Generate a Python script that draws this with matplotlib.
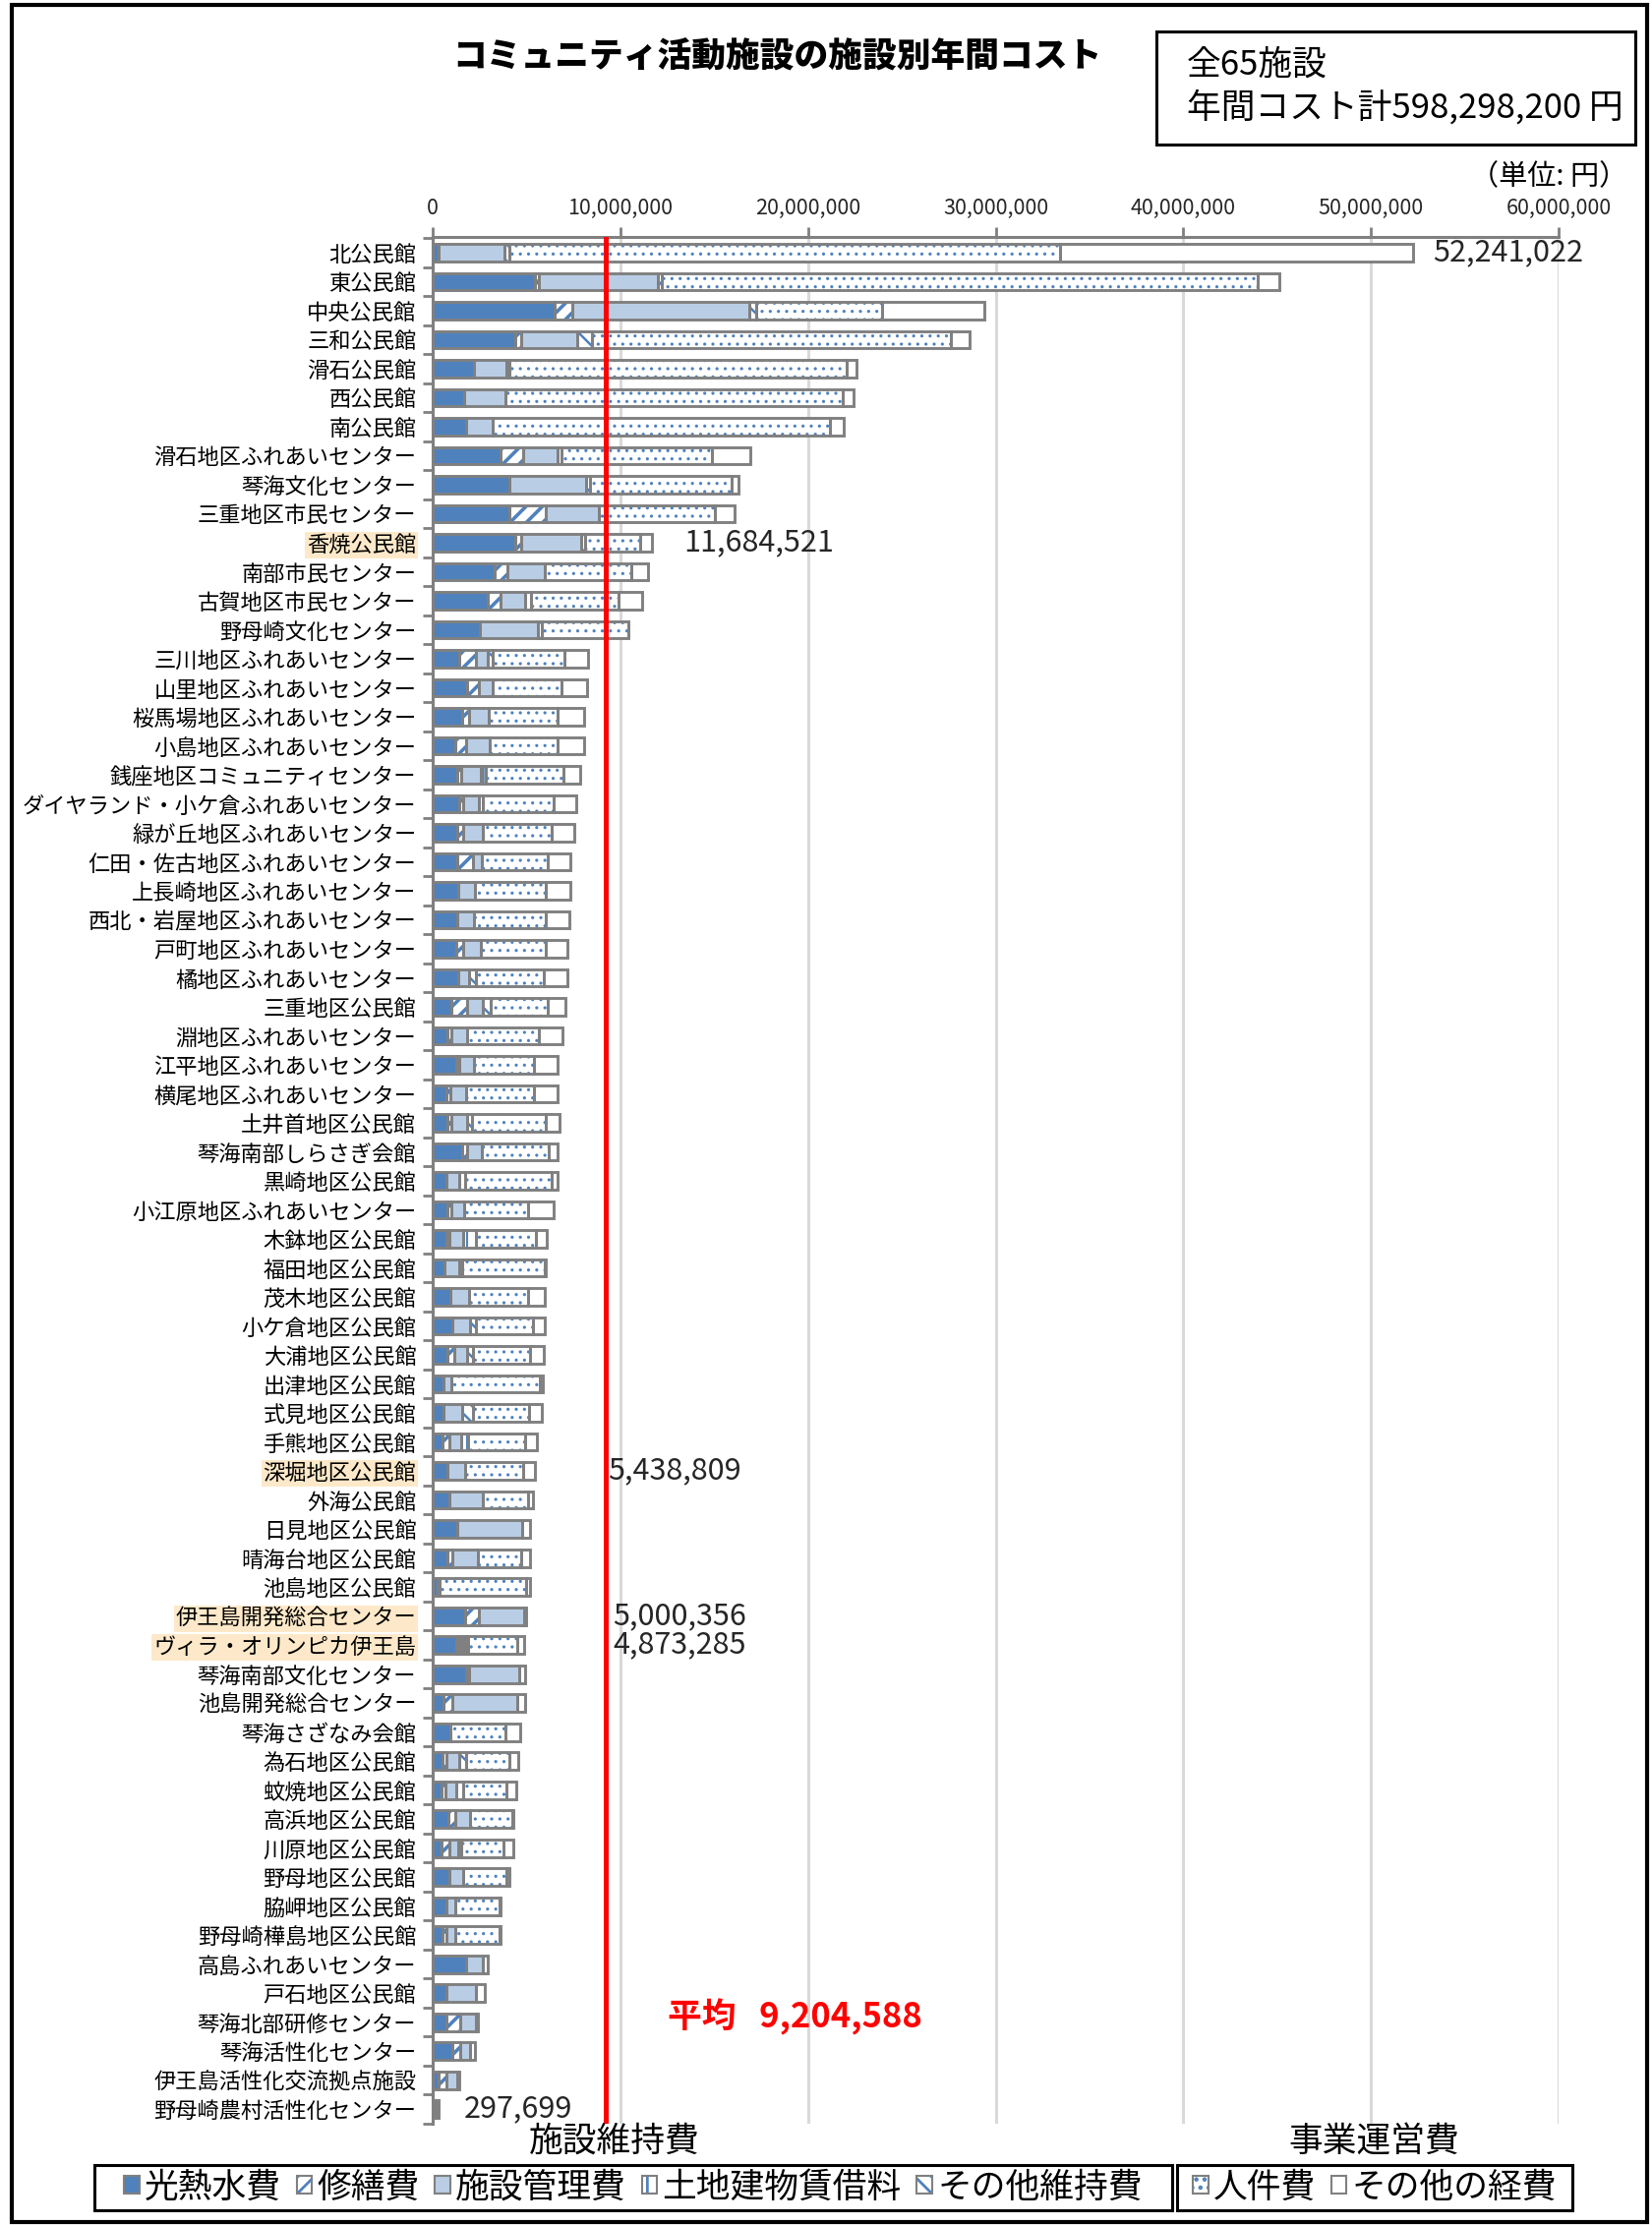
import numpy as np
import matplotlib
matplotlib.use('Agg')
import matplotlib.pyplot as plt
from matplotlib.patches import Patch, Rectangle
from matplotlib.ticker import FuncFormatter, MultipleLocator

plt.rcParams['font.family'] = ['Noto Sans CJK JP', 'DejaVu Sans']
plt.rcParams['hatch.linewidth'] = 2.0

# ---------------- data (values in millions of yen) ----------------
facilities = [
    '北公民館', '東公民館', '中央公民館', '三和公民館', '滑石公民館', '西公民館', '南公民館',
    '滑石地区ふれあいセンター', '琴海文化センター', '三重地区市民センター', '香焼公民館',
    '南部市民センター', '古賀地区市民センター', '野母崎文化センター', '三川地区ふれあいセンター',
    '山里地区ふれあいセンター', '桜馬場地区ふれあいセンター', '小島地区ふれあいセンター',
    '銭座地区コミュニティセンター', 'ダイヤランド・小ケ倉ふれあいセンター', '緑が丘地区ふれあいセンター',
    '仁田・佐古地区ふれあいセンター', '上長崎地区ふれあいセンター', '西北・岩屋地区ふれあいセンター',
    '戸町地区ふれあいセンター', '橘地区ふれあいセンター', '三重地区公民館', '淵地区ふれあいセンター',
    '江平地区ふれあいセンター', '横尾地区ふれあいセンター', '土井首地区公民館', '琴海南部しらさぎ会館',
    '黒崎地区公民館', '小江原地区ふれあいセンター', '木鉢地区公民館', '福田地区公民館', '茂木地区公民館',
    '小ケ倉地区公民館', '大浦地区公民館', '出津地区公民館', '式見地区公民館', '手熊地区公民館',
    '深堀地区公民館', '外海公民館', '日見地区公民館', '晴海台地区公民館', '池島地区公民館',
    '伊王島開発総合センター', 'ヴィラ・オリンピカ伊王島', '琴海南部文化センター', '池島開発総合センター',
    '琴海さざなみ会館', '為石地区公民館', '蚊焼地区公民館', '高浜地区公民館', '川原地区公民館',
    '野母地区公民館', '脇岬地区公民館', '野母崎樺島地区公民館', '高島ふれあいセンター', '戸石地区公民館',
    '琴海北部研修センター', '琴海活性化センター', '伊王島活性化交流拠点施設', '野母崎農村活性化センター',
]

utilities = [0.30, 5.47, 6.52, 4.41, 2.22, 1.68, 1.80, 3.63, 4.11, 4.11, 4.40, 3.31, 2.96, 2.52, 1.43,
             1.82, 1.56, 1.22, 1.31, 1.40, 1.31, 1.29, 1.38, 1.33, 1.24, 1.35, 0.98, 0.79, 1.26, 0.73,
             0.77, 1.56, 0.73, 0.77, 0.75, 0.65, 0.94, 1.05, 0.77, 0.60, 0.59, 0.51, 0.80, 0.91, 1.29,
             0.77, 0.24, 1.75, 1.26, 1.78, 0.59, 0.94, 0.52, 0.47, 0.84, 0.45, 0.91, 0.73, 0.51, 1.78,
             0.73, 0.73, 1.05, 0.33, 0.15]
repairs = [0.00, 0.18, 0.90, 0.33, 0.00, 0.00, 0.00, 1.20, 0.00, 1.93, 0.30, 0.69, 0.66, 0.00, 0.88,
           0.66, 0.40, 0.56, 0.23, 0.23, 0.32, 0.86, 0.00, 0.00, 0.40, 0.00, 0.86, 0.20, 0.15, 0.20,
           0.23, 0.26, 0.00, 0.24, 0.15, 0.00, 0.00, 0.00, 0.38, 0.00, 0.00, 0.36, 0.00, 0.00, 0.00,
           0.26, 0.00, 0.73, 0.16, 0.18, 0.44, 0.00, 0.21, 0.23, 0.38, 0.42, 0.00, 0.00, 0.24, 0.00,
           0.00, 0.74, 0.42, 0.40, 0.00]
management = [3.51, 6.33, 9.46, 2.98, 1.71, 2.22, 1.38, 1.81, 4.06, 2.79, 3.20, 1.98, 1.28, 3.11, 0.61,
              0.70, 1.01, 1.26, 1.03, 0.82, 1.03, 0.47, 0.89, 0.87, 0.91, 0.61, 0.82, 0.86, 0.78, 0.85,
              0.82, 0.80, 0.70, 0.65, 0.71, 0.75, 1.02, 0.94, 0.69, 0.40, 0.98, 0.63, 0.91, 1.75, 3.50,
              1.37, 0.00, 2.40, 0.16, 2.66, 3.47, 0.00, 0.70, 0.56, 0.79, 0.51, 0.73, 0.49, 0.47, 0.91,
              1.58, 0.84, 0.52, 0.56, 0.08]
rent = [0.00, 0.00, 0.00, 0.00, 0.00, 0.00, 0.00, 0.24, 0.00, 0.00, 0.00, 0.00, 0.35, 0.00, 0.00,
        0.00, 0.00, 0.00, 0.26, 0.24, 0.00, 0.00, 0.00, 0.00, 0.00, 0.00, 0.00, 0.00, 0.00, 0.00,
        0.00, 0.00, 0.32, 0.00, 0.70, 0.00, 0.00, 0.00, 0.00, 0.00, 0.00, 0.39, 0.00, 0.00, 0.00,
        0.00, 0.00, 0.00, 0.16, 0.00, 0.00, 0.00, 0.00, 0.35, 0.00, 0.00, 0.00, 0.00, 0.00, 0.00,
        0.00, 0.00, 0.00, 0.00, 0.00]
other_maint = [0.27, 0.24, 0.36, 0.78, 0.18, 0.00, 0.00, 0.00, 0.21, 0.00, 0.20, 0.00, 0.00, 0.21, 0.30,
               0.00, 0.00, 0.00, 0.00, 0.00, 0.00, 0.00, 0.00, 0.00, 0.00, 0.35, 0.45, 0.00, 0.00, 0.00,
               0.28, 0.00, 0.00, 0.00, 0.00, 0.15, 0.00, 0.32, 0.31, 0.00, 0.60, 0.00, 0.00, 0.00, 0.00,
               0.00, 0.15, 0.00, 0.16, 0.00, 0.00, 0.00, 0.35, 0.00, 0.00, 0.16, 0.00, 0.00, 0.00, 0.00,
               0.00, 0.00, 0.00, 0.00, 0.00]
personnel = [29.37, 31.74, 6.69, 19.13, 17.93, 17.96, 17.99, 7.98, 7.54, 6.19, 2.95, 4.59, 4.67, 4.61, 3.80,
             3.68, 3.71, 3.64, 4.12, 3.77, 3.67, 3.49, 3.75, 3.82, 3.47, 3.62, 3.00, 3.82, 3.22, 3.63,
             3.92, 3.57, 4.58, 3.40, 3.20, 4.40, 3.11, 3.01, 3.03, 4.70, 2.99, 3.01, 3.12, 2.41, 0.00,
             2.32, 4.58, 0.00, 2.60, 0.00, 0.00, 2.94, 2.31, 2.34, 2.22, 2.24, 2.28, 2.35, 2.35, 0.00,
             0.00, 0.00, 0.00, 0.00, 0.00]
other_exp = [18.79, 1.14, 5.47, 0.96, 0.54, 0.57, 0.72, 2.08, 0.36, 1.05, 0.63, 0.89, 1.23, 0.00, 1.28,
             1.36, 1.37, 1.37, 0.92, 1.19, 1.23, 1.24, 1.33, 1.24, 1.15, 1.24, 0.96, 1.24, 1.27, 1.27,
             0.72, 0.49, 0.30, 1.36, 0.56, 0.05, 0.88, 0.63, 0.72, 0.15, 0.65, 0.65, 0.61, 0.25, 0.41,
             0.48, 0.23, 0.12, 0.37, 0.28, 0.40, 0.79, 0.49, 0.49, 0.09, 0.54, 0.17, 0.05, 0.05, 0.23,
             0.45, 0.09, 0.27, 0.14, 0.07]

series_names = ['光熱水費', '修繕費', '施設管理費', '土地建物賃借料', 'その他維持費', '人件費', 'その他の経費']
highlighted = ['香焼公民館', '深堀地区公民館', '伊王島開発総合センター', 'ヴィラ・オリンピカ伊王島']
annotated = {'北公民館': '52,241,022', '香焼公民館': '11,684,521', '深堀地区公民館': '5,438,809',
             '伊王島開発総合センター': '5,000,356', 'ヴィラ・オリンピカ伊王島': '4,873,285',
             '野母崎農村活性化センター': '297,699'}
annot_x = {'北公民館': 53.3, '香焼公民館': 13.4, '深堀地区公民館': 9.35,
           '伊王島開発総合センター': 9.62, 'ヴィラ・オリンピカ伊王島': 9.62,
           '野母崎農村活性化センター': 1.65}
average = 9204588
total_text = ['全65施設', '年間コスト計598,298,200 円']
title = 'コミュニティ活動施設の施設別年間コスト'

# ---------------- figure ----------------
W, H = 1680, 2263
fig = plt.figure(figsize=(W / 100, H / 100), dpi=100)
def fx(p): return p / W
def fy(p): return 1 - p / H

ax = fig.add_axes([fx(440), fy(2160), fx(1585) - fx(440), fy(241) - fy(2160)])

BLUE = '#4f81bd'
LIGHT = '#b9cde5'
GRAY = '#808080'
# (face, hatch, hatch linewidth)
styles = [(BLUE, None, 1.0), ('white', '//', 2.6), (LIGHT, None, 1.0), ('white', '|', 1.5),
          ('white', '\\\\', 1.8), ('white', '..', 1.1), ('white', None, 1.0)]

series = [utilities, repairs, management, rent, other_maint, personnel, other_exp]
n = len(facilities)
y = np.arange(n)
left = np.zeros(n)
BH = 0.6
for vals, (fc, hatch, hlw) in zip(series, styles):
    v = np.array(vals) * 1e6
    with plt.rc_context({'hatch.linewidth': hlw}):
        bars = ax.barh(y, v, left=left, height=BH, color=fc, hatch=hatch, edgecolor=BLUE,
                       linewidth=0, zorder=3)
        for p in bars:
            if hasattr(p, 'set_hatch_linewidth'):
                p.set_hatch_linewidth(hlw)
    ax.barh(y, v, left=left, height=BH, fill=False, edgecolor=GRAY, linewidth=2.1, zorder=4)
    left += v

ax.axvline(average, color='red', lw=3.6, zorder=6)

ax.set_xlim(0, 60e6)
ax.set_ylim(n - 1 + 0.5, -0.54)
ax.xaxis.tick_top()
ax.xaxis.set_major_locator(MultipleLocator(10e6))
ax.xaxis.set_major_formatter(FuncFormatter(lambda v, p: f'{v:,.0f}'))
ax.tick_params(axis='x', length=7, width=2, color=GRAY, labelsize=15.5, pad=6, labelcolor='#262626')
ax.xaxis.grid(True, color='#d9d9d9', linewidth=2.2, zorder=0)
ax.set_axisbelow(True)

ax.set_yticks(y)
ax.set_yticklabels(facilities, fontsize=16)
ax.tick_params(axis='y', which='major', length=0, pad=12)
ax.set_yticks(np.arange(-0.5, n, 1), minor=True)
ax.tick_params(axis='y', which='minor', length=7, width=2, color=GRAY)
for lbl in ax.get_yticklabels():
    if lbl.get_text() in highlighted:
        lbl.set_bbox(dict(facecolor='#fde9c9', edgecolor='none', pad=1.5))

for s in ['right', 'bottom']:
    ax.spines[s].set_visible(False)
for s in ['top', 'left']:
    ax.spines[s].set_color(GRAY)
    ax.spines[s].set_linewidth(2.2)

for name, txt in annotated.items():
    i = facilities.index(name)
    ax.text(annot_x[name] * 1e6, i, txt, va='center', ha='left', fontsize=22, color='#262626', zorder=7)

ax.text(12.53e6, 60.8, f'平均   {average:,}', color='red', fontsize=25, fontweight='bold',
        va='center', ha='left', zorder=7)

# ---------------- texts around ----------------
fig.text(fx(790), fy(58), title, ha='center', va='center', fontsize=25, fontweight='heavy')
fig.add_artist(Rectangle((fx(1176), fy(147)), fx(1663) - fx(1176), fy(32) - fy(147),
                         transform=fig.transFigure, fill=False, ec='black', lw=2.2))
fig.text(fx(1207), fy(66), total_text[0], ha='left', va='center', fontsize=25)
fig.text(fx(1207), fy(110), total_text[1], ha='left', va='center', fontsize=25)
fig.text(fx(1655), fy(180), '（単位: 円）', ha='right', va='center', fontsize=21)

fig.text(fx(625), fy(2178), '施設維持費', ha='center', va='center', fontsize=25)
fig.text(fx(1397), fy(2178), '事業運営費', ha='center', va='center', fontsize=25)

# legend
def handle(fc, hatch, hlw):
    p = Patch(facecolor=fc, hatch=hatch, edgecolor=BLUE, linewidth=0)
    if hasattr(p, 'set_hatch_linewidth'):
        p.set_hatch_linewidth(min(hlw, 1.5))
    return (p, Patch(fill=False, edgecolor=GRAY, linewidth=1.5))

h1 = [handle(*s) for s in styles[:5]]
h2 = [handle(*s) for s in styles[5:]]
common = dict(loc='center', frameon=False, fontsize=25, handlelength=0.45, handleheight=0.45,
              handletextpad=0.15, columnspacing=0.45, borderpad=0.2, borderaxespad=0)
fig.legend(h1, series_names[:5], ncol=5, bbox_to_anchor=(fx(644), fy(2225)), **common)
fig.legend(h2, series_names[5:], ncol=2, bbox_to_anchor=(fx(1398), fy(2225)), **common)
fig.add_artist(Rectangle((fx(96), fy(2248)), fx(1192) - fx(96), fy(2202) - fy(2248),
                         transform=fig.transFigure, fill=False, ec='black', lw=2.2))
fig.add_artist(Rectangle((fx(1197), fy(2248)), fx(1599) - fx(1197), fy(2202) - fy(2248),
                         transform=fig.transFigure, fill=False, ec='black', lw=2.2))

# outer frame
fig.add_artist(Rectangle((fx(12), fy(2260)), fx(1675) - fx(12), fy(5) - fy(2260),
                         transform=fig.transFigure, fill=False, ec='black', lw=3))

fig.savefig('out.png', dpi=100)
